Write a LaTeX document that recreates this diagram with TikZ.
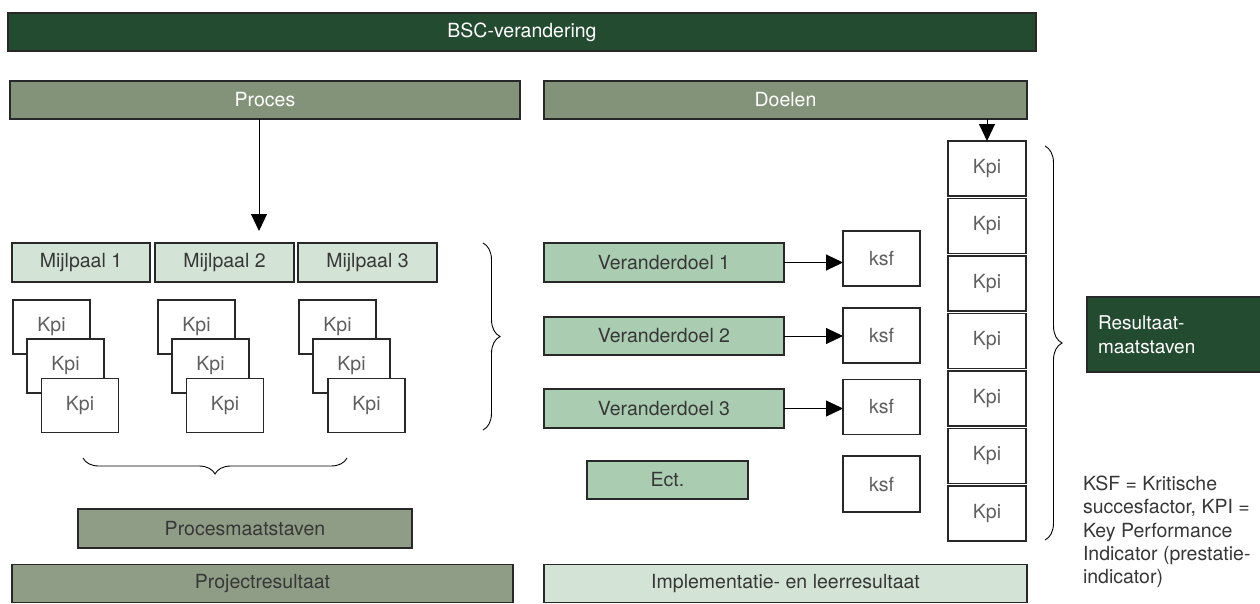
\documentclass[tikz,border=0pt]{standalone}
\usepackage{fontspec}
\setmainfont{TeX Gyre Heros}
\usetikzlibrary{arrows.meta,decorations.pathreplacing,calc}
\definecolor{darkgreen}{RGB}{35,75,48}
\definecolor{midgreen}{RGB}{130,147,122}
\definecolor{procgreen}{RGB}{143,157,134}
\definecolor{lightgreen}{RGB}{211,227,214}
\definecolor{vgreen}{RGB}{170,205,178}
\definecolor{bordercol}{RGB}{40,40,40}
\definecolor{textdark}{RGB}{55,55,55}
\definecolor{kpitext}{RGB}{95,95,95}
\tikzset{
  box/.style={draw=bordercol, line width=1.1pt, inner sep=0pt, outer sep=0pt,
    font=\fontsize{19.5}{22}\selectfont},
  darkbox/.style={box, fill=darkgreen, text=white},
  midbox/.style={box, fill=midgreen, text=white},
  procbox/.style={box, fill=procgreen, text=textdark},
  lightbox/.style={box, fill=lightgreen, text=textdark},
  vbox/.style={box, fill=vgreen, text=textdark},
  kpibox/.style={box, fill=white, text=kpitext, minimum width=77pt, minimum height=54pt},
  ksfbox/.style={box, fill=white, text=kpitext, minimum width=77pt, minimum height=55pt},
  bigarrow/.style={line width=1pt, draw=black, -{Triangle[length=17pt,width=16pt]}},
  bracestyle/.style={draw=black, line width=0.9pt, decorate}
}
\begin{document}
\begin{tikzpicture}[x=1pt,y=-1pt]
\useasboundingbox[fill=white] (0,0) rectangle (1260,603);

% top bars
\node[darkbox, minimum width=1028pt, minimum height=38pt] (bsc) at (522,32) {BSC-verandering};
\node[midbox, minimum width=510pt, minimum height=38pt] (proces) at (265,100) {Proces};
\node[midbox, minimum width=483pt, minimum height=38pt] (doelen) at (785.5,100) {Doelen};

% milestones
\node[lightbox, minimum width=138pt, minimum height=39pt] (m1) at (81,262.5) {Mijlpaal 1};
\node[lightbox, minimum width=139pt, minimum height=39pt] (m2) at (224.5,262.5) {Mijlpaal 2};
\node[lightbox, minimum width=139pt, minimum height=39pt] (m3) at (367.5,262.5) {Mijlpaal 3};

\coordinate (ptip) at (259,231);
\draw[bigarrow] (proces.south -| ptip) -- (ptip);

% kpi stacks
\node[kpibox] (a1) at (51.5,327) {Kpi};
\node[kpibox] (a2) at (65.5,366) {Kpi};
\node[kpibox] (a3) at (80,405.5) {Kpi};
\node[kpibox] (b1) at (196.5,327) {Kpi};
\node[kpibox] (b2) at (210.5,366) {Kpi};
\node[kpibox] (b3) at (225,405.5) {Kpi};
\node[kpibox] (c1) at (337.5,327) {Kpi};
\node[kpibox] (c2) at (351.5,366) {Kpi};
\node[kpibox] (c3) at (366.5,405.5) {Kpi};

% braces left part
\draw[bracestyle, decoration={brace, amplitude=17pt}] (483,243) -- (483,430);
\draw[bracestyle, decoration={brace, amplitude=16pt}] (347,458) -- (83,458);

\node[procbox, minimum width=334pt, minimum height=39pt] (pm) at (245,528.5) {Procesmaatstaven};
\node[procbox, minimum width=501pt, minimum height=38pt] (pr) at (262.5,583.5) {Projectresultaat};

% right part
\node[vbox, minimum width=240pt, minimum height=39pt] (v1) at (664,262.5) {Veranderdoel 1};
\node[vbox, minimum width=240pt, minimum height=38pt] (v2) at (664,336) {Veranderdoel 2};
\node[vbox, minimum width=240pt, minimum height=39pt] (v3) at (664,408.5) {Veranderdoel 3};
\node[vbox, minimum width=161pt, minimum height=38pt] (ect) at (667.5,480) {Ect.};

\node[ksfbox] (k1) at (881.5,258.5) {ksf};
\node[ksfbox] (k2) at (881.5,335.5) {ksf};
\node[ksfbox] (k3) at (881.5,407) {ksf};
\node[ksfbox, minimum height=56pt] (k4) at (881.5,484) {ksf};

\draw[bigarrow] (v1.east) -- (v1.east -| k1.west);
\draw[bigarrow] (v2.east) -- (v2.east -| k2.west);
\draw[bigarrow] (v3.east) -- (v3.east -| k3.west);

\foreach \i/\y in {1/168.5, 2/226, 3/283.5, 4/341, 5/398.5, 6/456, 7/513.5}{
  \node[kpibox, minimum width=78pt, minimum height=55pt] (r\i) at (987,\y) {Kpi};
}
\draw[bigarrow] (doelen.south -| r1.north) -- (r1.north);

\draw[bracestyle, decoration={brace, amplitude=17pt}] (1045,146) -- (1045,540);

\node[darkbox, minimum width=176pt, minimum height=75pt, text width=154pt, align=left,
  inner xsep=11pt, font=\fontsize{19}{24}\selectfont] (rm) at (1175,334.5) {Resultaat-\\maatstaven};

\node[box, draw=none, anchor=north west, align=left, text=textdark, inner sep=0pt,
  font=\fontsize{19.5}{23.3}\selectfont] (note) at (1083,476)
  {KSF = Kritische\\succesfactor, KPI =\\Key Performance\\Indicator (prestatie-\\indicator)};

\node[lightbox, minimum width=483pt, minimum height=38pt] (impl) at (785.5,583.5) {Implementatie- en leerresultaat};
\end{tikzpicture}
\end{document}
